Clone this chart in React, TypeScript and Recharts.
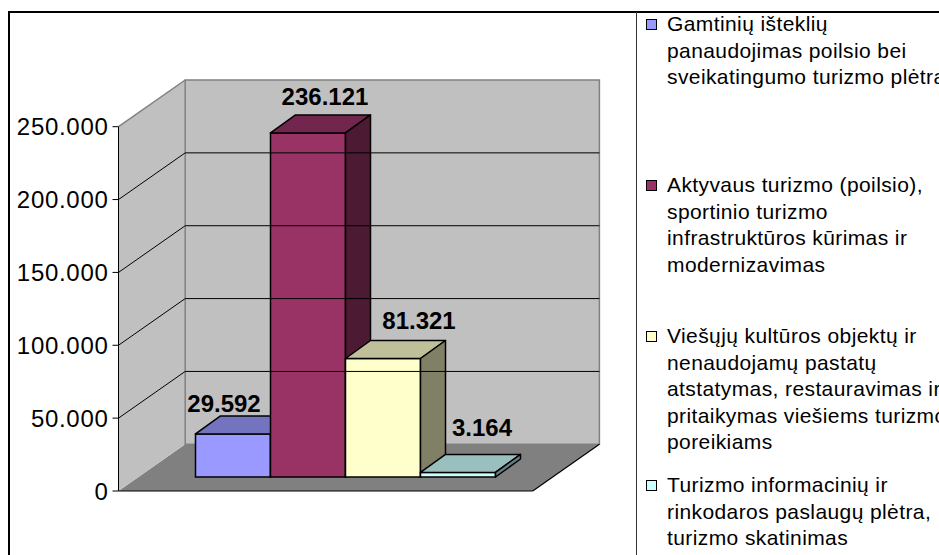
import { BarChart, Bar, XAxis, YAxis, ReferenceArea, ReferenceLine, LabelList } from 'recharts';

// one group of four measures
const groups = ['Priemonės'];
const seriesNames = [
  'Gamtinių išteklių\npanaudojimas poilsio bei\nsveikatingumo turizmo plėtra',
  'Aktyvaus turizmo (poilsio),\nsportinio turizmo\ninfrastruktūros kūrimas ir\nmodernizavimas',
  'Viešųjų kultūros objektų ir\nnenaudojamų pastatų\natstatymas, restauravimas ir\npritaikymas viešiems turizmo\nporeikiams',
  'Turizmo informacinių ir\nrinkodaros paslaugų plėtra,\nturizmo skatinimas',
];
const seriesValues = [29592, 236121, 81321, 3164];
const yTicks = [0, 50000, 100000, 150000, 200000, 250000];

const data = groups.map((g) => {
  const row: Record<string, any> = { group: g };
  seriesValues.forEach((v, i) => (row['s' + i] = v));
  return row;
});

// colours: front, top, side
const FRONT = ['#9999FF', '#993366', '#FFFFCC', '#CCFFFF'];
const TOP = ['#7373BF', '#73264D', '#BFBF99', '#99BFBF'];
const SIDE = ['#5C5C99', '#4D1A33', '#808066', '#668080'];

const FONT = '"Liberation Sans", Arial, sans-serif';
const W = 939;
const H = 555;
const PLOT_LEFT = 118.5;
const PLOT_RIGHT = 532.7;
const PLOT_TOP = 126.7;
const PLOT_BOTTOM = 491;
const YAXIS_W = 100;

// 3d offsets: wall depth, bar plane shift, bar depth
const WX = 66.7;
const WY = -46.7;
const BX = 20;
const BY = -14;
const DX = 25;
const DY = -18;

const LABEL_SHIFT = [
  [-9, -4],
  [17, -10],
  [36, -11],
  [24, -18],
];

const fmt = (v: any) => String(v).replace(/\B(?=(\d{3})+(?!\d))/g, '.');

const Walls = (p: any) => {
  const { x, y, width, height } = p;
  const L = x, R = x + width, T = y, B = y + height;
  return (
    <g>
      <polygon points={`${L},${B} ${R},${B} ${R + WX},${B + WY} ${L + WX},${B + WY}`} fill="#808080" />
      <polygon points={`${L},${T} ${L + WX},${T + WY} ${L + WX},${B + WY} ${L},${B}`} fill="#C0C0C0" />
      <line x1={L} y1={T} x2={L + WX} y2={T + WY} stroke="#808080" strokeWidth={1.5} />
      <rect x={L + WX} y={T + WY} width={width} height={height} fill="#C0C0C0" stroke="#808080" strokeWidth={1.5} />
      <line x1={L} y1={B} x2={R} y2={B} stroke="#000" strokeWidth={1.2} />
      <line x1={R} y1={B} x2={R + WX} y2={B + WY} stroke="#000" strokeWidth={1.2} />
    </g>
  );
};

// grid line bent along side wall and back wall
const WallGridLine = (p: any) => {
  const { x1, y1, x2 } = p;
  return (
    <g>
      <line x1={x1} y1={y1} x2={x1 + WX} y2={y1 + WY} stroke="#000" strokeWidth={1} />
      <line x1={x1 + WX} y1={y1 + WY} x2={x2 + WX} y2={y1 + WY} stroke="#000" strokeWidth={1} />
    </g>
  );
};

const makeBox = (i: number) => (p: any) => {
  const { x, y, width, height } = p;
  if (width == null || height == null) return <g />;
  const fx = x + BX;
  const fy = y + BY;
  const w = width;
  const h = height;
  const sw = 1.5;
  return (
    <g>
      <rect x={fx} y={fy} width={w} height={h} fill={FRONT[i]} stroke="#000" strokeWidth={sw} />
      <polygon
        points={`${fx},${fy} ${fx + DX},${fy + DY} ${fx + w + DX},${fy + DY} ${fx + w},${fy}`}
        fill={TOP[i]}
        stroke="#000"
        strokeWidth={sw}
        strokeLinejoin="round"
      />
      <polygon
        points={`${fx + w},${fy} ${fx + w + DX},${fy + DY} ${fx + w + DX},${fy + h + DY} ${fx + w},${fy + h}`}
        fill={SIDE[i]}
        stroke="#000"
        strokeWidth={sw}
        strokeLinejoin="round"
      />
    </g>
  );
};

const makeLabel = (i: number) => (p: any) => {
  const { x, y, width, value } = p;
  const cx = Number(x) + Number(width) / 2 + BX + LABEL_SHIFT[i][0];
  const by = Number(y) + BY + DY + LABEL_SHIFT[i][1];
  return (
    <text x={cx} y={by} textAnchor="middle" fontSize={24} fontWeight="bold" fontFamily={FONT} fill="#000">
      {fmt(value)}
    </text>
  );
};

const LEGEND_TOP = [11, 172, 323, 472];

export default function App() {
  return (
    <div style={{ position: 'fixed', left: 0, top: 0, width: W, height: H, overflow: 'hidden', background: '#fff' }}>
      <BarChart
        width={W}
        height={H}
        data={data}
        margin={{ top: PLOT_TOP, right: W - PLOT_RIGHT, bottom: H - PLOT_BOTTOM, left: PLOT_LEFT - YAXIS_W }}
        barGap={0}
        barCategoryGap={57}
      >
        <ReferenceArea y1={0} y2={250000} shape={Walls} />
        {yTicks.slice(1, -1).map((t) => (
          <ReferenceLine key={t} y={t} shape={WallGridLine} />
        ))}
        <XAxis dataKey="group" hide />
        <YAxis
          width={YAXIS_W}
          domain={[0, 250000]}
          ticks={yTicks}
          interval={0}
          tickFormatter={fmt}
          tick={{ fontSize: 24, fill: '#000', fontFamily: FONT, letterSpacing: 0.7 }}
          tickSize={6}
          tickMargin={4}
          axisLine={{ stroke: '#000' }}
          tickLine={{ stroke: '#000' }}
        />
        {seriesValues.map((_, i) => (
          <Bar key={i} dataKey={'s' + i} name={seriesNames[i]} shape={makeBox(i)} isAnimationActive={false}>
            <LabelList dataKey={'s' + i} content={makeLabel(i)} />
          </Bar>
        ))}
      </BarChart>

      {/* frame */}
      <div style={{ position: 'absolute', left: 8, top: 11, width: W, height: H, borderLeft: '2px solid #000', borderTop: '2px solid #000' }} />
      <div style={{ position: 'absolute', left: 636, top: 12, width: 0, height: H, borderLeft: '1.5px solid #333' }} />

      {/* legend */}
      {seriesNames.map((name, i) => (
        <div
          key={i}
          style={{
            position: 'absolute',
            left: 646,
            top: LEGEND_TOP[i],
            fontFamily: FONT,
            fontSize: 21,
            letterSpacing: 0.4,
            lineHeight: '26.5px',
            color: '#000',
          }}
        >
          <div style={{ position: 'absolute', left: 0, top: 8, width: 9, height: 9, background: FRONT[i], border: '1px solid #000' }} />
          <div style={{ marginLeft: 21, whiteSpace: 'pre' }}>{name}</div>
        </div>
      ))}
    </div>
  );
}
